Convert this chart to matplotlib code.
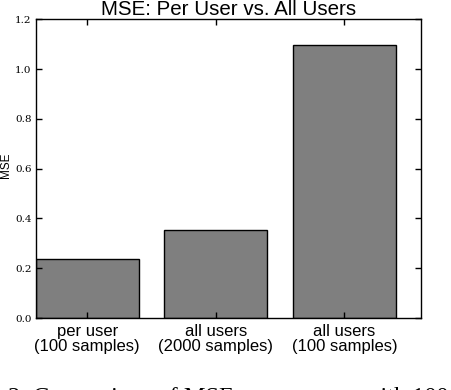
import matplotlib
matplotlib.use("Agg")
import matplotlib.pyplot as plt
import numpy as np

# data
categories = ["per user\n(100 samples)", "all users\n(2000 samples)", "all users\n(100 samples)"]
mse = [0.236, 0.352, 1.096]
yticks = [0.0, 0.2, 0.4, 0.6, 0.8, 1.0, 1.2]

fig = plt.figure(figsize=(4.52, 3.90), dpi=100)
ax = fig.add_axes([0.079, 0.1846, 0.8535, 0.766])

x = np.arange(len(mse))
ax.bar(x, mse, width=0.8, align="edge", color="#7f7f7f", edgecolor="black", linewidth=1.0)

ax.set_xlim(0, len(mse))
ax.set_ylim(0, 1.2)
ax.set_xticks(x + 0.4)
ax.set_xticklabels(categories, fontsize=12, family="Liberation Sans", linespacing=1.0)
ax.set_yticks(yticks)
ax.set_yticklabels(["%.1f" % t for t in yticks], fontsize=7.5, family="DejaVu Serif")
ax.tick_params(direction="in", top=True, right=True, length=4, width=1)
ax.tick_params(axis="x", pad=4)
ax.tick_params(axis="y", pad=3)
for s in ax.spines.values():
    s.set_linewidth(1.0)

ax.set_ylabel("MSE", fontsize=8.5, family="Liberation Sans")
ax.yaxis.set_label_coords(-0.062, 0.51)
ax.set_title("MSE: Per User vs. All Users", fontsize=14.8, family="Liberation Sans", pad=3)

# caption of the paper figure, cut off at the bottom edge
fig.text(8 / 452, -0.034, "2: Comparison of MSE across users with 100",
         fontsize=17.5, family="Liberation Serif", ha="left", va="baseline")

fig.savefig("out.png", dpi=100)
